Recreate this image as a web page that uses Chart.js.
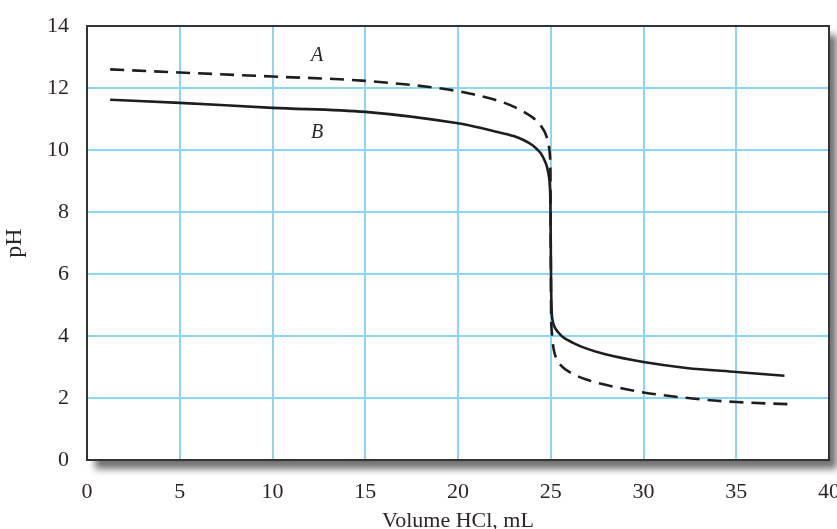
<!DOCTYPE html>
<html>
<head>
<meta charset="utf-8">
<script src="https://cdn.jsdelivr.net/npm/chart.js@4/dist/chart.umd.min.js"></script>
<style>
  html, body { margin: 0; padding: 0; background: #fff; }
  #wrap { width: 837px; height: 529px; }
</style>
</head>
<body>
<div id="wrap"><canvas id="chartPH"></canvas></div>
<script>
// ── datos ──
const volA = [1.25, 5, 10, 15, 20, 21, 22, 23, 24, 24.3, 24.5, 24.7, 24.8, 24.9, 24.95, 24.98, 25.0, 25.02, 25.05, 25.15, 25.3, 25.6, 26, 27, 28, 30, 33.4, 35, 37.8]
const phA  = [12.6, 12.5, 12.37, 12.23, 11.9, 11.77, 11.62, 11.4, 11.06, 10.9, 10.75, 10.55, 10.38, 10.12, 9.85, 9.3, 7.0, 4.7, 4.2, 3.6, 3.28, 3.02, 2.84, 2.58, 2.42, 2.18, 1.94, 1.87, 1.8]
const volB = [1.25, 5, 10, 15, 20, 21, 22, 23, 23.5, 24, 24.3, 24.5, 24.7, 24.8, 24.9, 24.95, 24.98, 25.0, 25.02, 25.05, 25.1, 25.2, 25.4, 25.65, 26.2, 26.9, 28, 30, 32.3, 35, 37.6]
const phB  = [11.62, 11.52, 11.36, 11.23, 10.86, 10.74, 10.6, 10.45, 10.33, 10.16, 10.0, 9.86, 9.62, 9.45, 9.15, 8.85, 8.3, 7.0, 5.6, 4.8, 4.5, 4.3, 4.12, 3.97, 3.78, 3.6, 3.4, 3.16, 2.97, 2.84, 2.72]
const xTicks = [0, 5, 10, 15, 20, 25, 30, 35, 40]
const yTicks = [0, 2, 4, 6, 8, 10, 12, 14]
const curveLabels = [
  { text: 'A', x: 12.4, y: 13.05 },
  { text: 'B', x: 12.4, y: 10.55 }
]

const lineColor = '#1e1e1e'
const gridColor = '#8ad6f6'
const textColor = '#2e2626'
const serif = "'Liberation Serif', 'DejaVu Serif', serif"

const pares = (xs, ys) => xs.map((x, i) => ({ x, y: ys[i] }))

// marco con sombra y etiquetas A / B
const marco = {
  id: 'marco',
  beforeDatasetsDraw(chart) {
    const { ctx, chartArea: a } = chart
    ctx.save()
    ctx.shadowColor = 'rgba(0,0,0,0.55)'
    ctx.shadowBlur = 7
    ctx.shadowOffsetX = 8
    ctx.shadowOffsetY = 9
    ctx.fillStyle = '#fff'
    ctx.fillRect(a.left, a.top, a.right - a.left, a.bottom - a.top)
    ctx.restore()
    // cuadrícula encima del relleno blanco
    ctx.save()
    ctx.strokeStyle = gridColor
    ctx.lineWidth = 2
    const sx = chart.scales.x, sy = chart.scales.y
    xTicks.forEach(v => {
      const px = Math.round(sx.getPixelForValue(v))
      ctx.beginPath(); ctx.moveTo(px, a.top); ctx.lineTo(px, a.bottom); ctx.stroke()
    })
    yTicks.forEach(v => {
      const py = Math.round(sy.getPixelForValue(v))
      ctx.beginPath(); ctx.moveTo(a.left, py); ctx.lineTo(a.right, py); ctx.stroke()
    })
    ctx.strokeStyle = '#333'
    ctx.lineWidth = 2
    ctx.strokeRect(a.left, a.top, a.right - a.left, a.bottom - a.top)
    ctx.restore()
  },
  afterDatasetsDraw(chart) {
    const { ctx } = chart
    const sx = chart.scales.x, sy = chart.scales.y
    ctx.save()
    ctx.fillStyle = textColor
    ctx.font = 'italic 20px ' + serif
    ctx.textAlign = 'center'
    ctx.textBaseline = 'middle'
    curveLabels.forEach(l => {
      ctx.fillText(l.text, sx.getPixelForValue(l.x), sy.getPixelForValue(l.y))
    })
    ctx.restore()
  }
}

new Chart(document.getElementById('chartPH'), {
  type: 'scatter',
  data: {
    datasets: [
      {
        label: 'A',
        data: pares(volA, phA),
        showLine: true,
        borderColor: lineColor,
        borderWidth: 2.6,
        borderDash: [14, 8],
        pointRadius: 0,
        cubicInterpolationMode: 'monotone'
      },
      {
        label: 'B',
        data: pares(volB, phB),
        showLine: true,
        borderColor: lineColor,
        borderWidth: 2.6,
        pointRadius: 0,
        cubicInterpolationMode: 'monotone'
      }
    ]
  },
  options: {
    responsive: true,
    maintainAspectRatio: false,
    animation: false,
    layout: { padding: { top: 26, right: 8, left: 0, bottom: 0 } },
    scales: {
      x: {
        type: 'linear',
        min: 0,
        max: 40,
        afterBuildTicks: s => { s.ticks = xTicks.map(v => ({ value: v })) },
        afterFit: s => { s.height = 69; s.paddingLeft = 0; s.paddingRight = 0 },
        ticks: { color: textColor, font: { family: serif, size: 22 }, padding: 11, maxRotation: 0 },
        grid: { display: false },
        border: { display: false },
        title: {
          display: true,
          text: 'Volume HCl, mL',
          color: textColor,
          font: { family: serif, size: 22 },
          padding: { top: 0, bottom: -5 }
        }
      },
      y: {
        min: 0,
        max: 14,
        afterBuildTicks: s => { s.ticks = yTicks.map(v => ({ value: v })) },
        afterFit: s => { s.width = 87; s.paddingTop = 0; s.paddingBottom = 0 },
        ticks: { color: textColor, font: { family: serif, size: 22 }, padding: 10 },
        grid: { display: false },
        border: { display: false },
        title: {
          display: true,
          text: 'pH',
          color: textColor,
          font: { family: serif, size: 24 },
          padding: { top: 0, bottom: 14 }
        }
      }
    },
    plugins: {
      legend: { display: false },
      tooltip: { enabled: false }
    }
  },
  plugins: [marco]
})
</script>
</body>
</html>
